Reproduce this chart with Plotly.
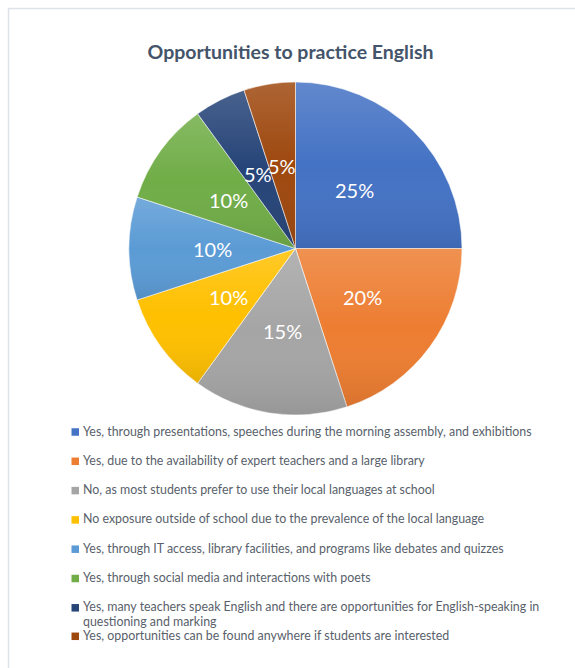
import base64
import math
import plotly.graph_objects as go

# Survey responses: opportunities to practise English
categories = [
    "Yes, through presentations, speeches during the morning assembly, and exhibitions",
    "Yes, due to the availability of expert teachers and a large library",
    "No, as most students prefer to use their local languages at school",
    "No exposure outside of school due to the prevalence of the local language",
    "Yes, through IT access, library facilities, and programs like debates and quizzes",
    "Yes, through social media and interactions with poets",
    "Yes, many teachers speak English and there are opportunities for English-speaking in questioning and marking",
    "Yes, opportunities can be found anywhere if students are interested",
]
# Legend text, one list of lines per entry
legend_lines = [
    ["Yes, through presentations, speeches during the morning assembly, and exhibitions"],
    ["Yes, due to the availability of expert teachers and a large library"],
    ["No, as most students prefer to use their local languages at school"],
    ["No exposure outside of school due to the prevalence of the local language"],
    ["Yes, through IT access, library facilities, and programs like debates and quizzes"],
    ["Yes, through social media and interactions with poets"],
    ["Yes, many teachers speak English and there are opportunities for English-speaking in",
     "questioning and marking"],
    ["Yes, opportunities can be found anywhere if students are interested"],
]
shares = [25, 20, 15, 10, 10, 10, 5, 5]
colors = ["#4472C4", "#ED7D31", "#A5A5A5", "#FFC000",
          "#5B9BD5", "#70AD47", "#264478", "#9E480E"]

W, H = 575, 668
FONT = "Lato"
TEXT_GREY = "#595f6b"

# Pie placement in pixels
cx, cy, R = 295.5, 248.5, 166.5
dom_x = [(cx - R) / W, (cx + R) / W]
dom_y = [(H - (cy + R)) / H, (H - (cy - R)) / H]

fig = go.Figure()
fig.add_trace(go.Pie(
    labels=categories,
    values=shares,
    sort=False,
    direction="clockwise",
    rotation=0,
    marker=dict(colors=colors, line=dict(color="rgba(255,255,255,0.7)", width=0.8)),
    textinfo="none",
    hoverinfo="label+percent",
    showlegend=False,
    domain=dict(x=dom_x, y=dom_y),
))

# Slice angles (clockwise from 12 o'clock)
total = float(sum(shares))
bounds = [0.0]
for v in shares:
    bounds.append(bounds[-1] + v / total * 2 * math.pi)

# Soft vertical shading on each wedge: lighter top, darker bottom
defs, paths = [], []
for i in range(len(shares)):
    a0, a1 = bounds[i], bounds[i + 1]
    x0, y0 = R + R * math.sin(a0), R - R * math.cos(a0)
    x1, y1 = R + R * math.sin(a1), R - R * math.cos(a1)
    large = 1 if (a1 - a0) > math.pi else 0
    defs.append(
        f'<linearGradient id="g{i}" x1="0" y1="0" x2="0" y2="1">'
        f'<stop offset="0" stop-color="#ffffff" stop-opacity="0.16"/>'
        f'<stop offset="0.5" stop-color="#ffffff" stop-opacity="0"/>'
        f'<stop offset="1" stop-color="#000000" stop-opacity="0.09"/>'
        f'</linearGradient>'
    )
    paths.append(
        f'<path d="M{R},{R} L{x0:.3f},{y0:.3f} A{R},{R} 0 {large} 1 {x1:.3f},{y1:.3f} Z" fill="url(#g{i})"/>'
    )
svg = (f'<svg xmlns="http://www.w3.org/2000/svg" width="{2*R}" height="{2*R}" '
       f'viewBox="0 0 {2*R} {2*R}"><defs>{"".join(defs)}</defs>{"".join(paths)}</svg>')
src = "data:image/svg+xml;base64," + base64.b64encode(svg.encode()).decode()
fig.add_layout_image(dict(
    source=src, xref="paper", yref="paper",
    x=dom_x[0], y=dom_y[1], sizex=dom_x[1] - dom_x[0], sizey=dom_y[1] - dom_y[0],
    xanchor="left", yanchor="top", sizing="stretch", layer="above",
))

# Percentage labels at half radius on each slice's bisector
annotations = []
for i, v in enumerate(shares):
    mid = (bounds[i] + bounds[i + 1]) / 2
    px = cx + 0.5 * R * math.sin(mid)
    py = cy - 0.5 * R * math.cos(mid)
    annotations.append(dict(
        x=px / W, y=1 - py / H, xref="paper", yref="paper",
        text=f"{v}%", showarrow=False, xanchor="center", yanchor="middle",
        font=dict(family=FONT, size=20, color="white"),
    ))

# Legend block beneath the pie
shapes = []
leg_x_box, leg_x_text = 71.5, 81
leg_y0, leg_step, line_step = 432, 29.3, 14.5
box = 7.5
yc = leg_y0
for i, (lines, col) in enumerate(zip(legend_lines, colors)):
    shapes.append(dict(
        type="rect", xref="paper", yref="paper",
        x0=leg_x_box / W, x1=(leg_x_box + box) / W,
        y0=1 - (yc + box / 2) / H, y1=1 - (yc - box / 2) / H,
        fillcolor=col, line=dict(width=0),
    ))
    for k, line in enumerate(lines):
        annotations.append(dict(
            x=leg_x_text / W, y=1 - (yc - 1 + k * line_step) / H,
            xref="paper", yref="paper",
            text=line, showarrow=False, xanchor="left", yanchor="middle", align="left",
            font=dict(family=FONT, size=12.4, color=TEXT_GREY),
        ))
    yc += leg_step if len(lines) == 1 else 2 * line_step - 0.5

# Thin chart frame
shapes.append(dict(
    type="rect", xref="paper", yref="paper",
    x0=8.5 / W, x1=1.05, y0=-0.05, y1=1 - 8.5 / H,
    line=dict(color="#dde2e8", width=1.5), fillcolor="rgba(0,0,0,0)",
))

fig.update_layout(
    width=W, height=H,
    margin=dict(l=0, r=0, t=0, b=0),
    paper_bgcolor="white", plot_bgcolor="white",
    title=dict(
        text="<b>Opportunities to practice English</b>",
        x=290.5 / W, xanchor="center", y=1 - 52 / H, yanchor="middle",
        font=dict(family=FONT, size=19.5, color="#44546A"),
    ),
    annotations=annotations,
    shapes=shapes,
)

fig.write_html("out.html")
